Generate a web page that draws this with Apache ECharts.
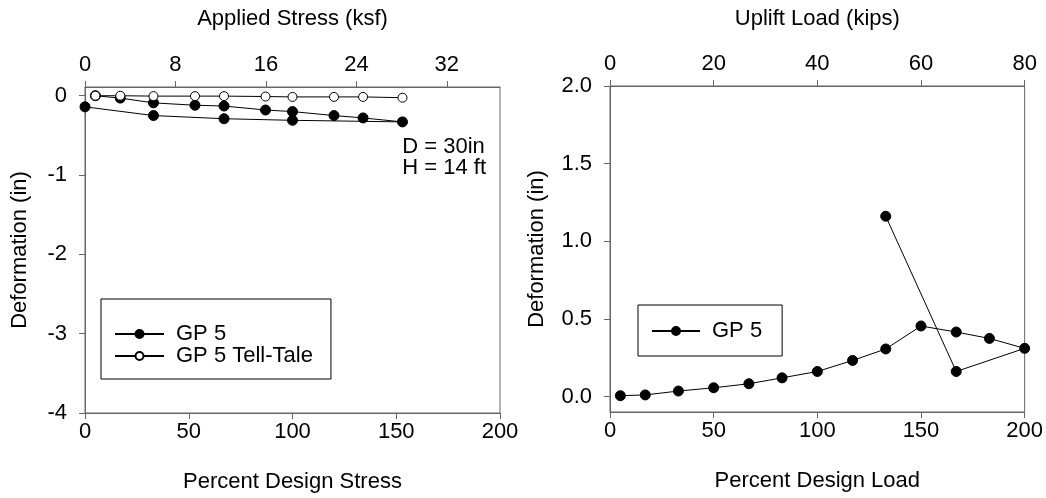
<!DOCTYPE html>
<html><head><meta charset="utf-8">
<script src="https://cdn.jsdelivr.net/npm/echarts@6/dist/echarts.min.js"></script>
<style>html,body{margin:0;padding:0;background:#fff}#c{width:1046px;height:498px}</style>
</head><body><div id="c"></div>
<script>
// ---- data ----
const leftPercent = [5, 17, 33, 53, 67, 87, 100, 120, 134, 153, 100, 67, 33, 0];
const leftGP5 = [0, -0.03, -0.09, -0.12, -0.13, -0.18, -0.2, -0.25, -0.28, -0.33, -0.31, -0.29, -0.25, -0.14];
const tellPercent = [5, 17, 33, 53, 67, 87, 100, 120, 134, 153];
const tellTale = [0, 0, -0.005, -0.005, -0.005, -0.01, -0.015, -0.015, -0.015, -0.025];
const rightPercent = [5, 17, 33, 50, 67, 83, 100, 117, 133, 150, 167, 183, 200, 167, 133];
const rightGP5 = [0.005, 0.01, 0.035, 0.056, 0.082, 0.12, 0.161, 0.232, 0.306, 0.454, 0.415, 0.374, 0.31, 0.161, 1.161];
const percentTicks = [0, 50, 100, 150, 200];
const stressTicks = [0, 8, 16, 24, 32];
const upliftTicks = [0, 20, 40, 60, 80];
const leftDefTicks = [-4, -3, -2, -1, 0];
const rightDefTicks = [0, 0.5, 1.0, 1.5, 2.0];
const annotation = ['D = 30in', 'H = 14 ft'];

const FONT = '"Liberation Sans", Arial, Helvetica, sans-serif';
const FS = 22;
const AX = '#666';

function pairs(xs, ys) { return xs.map((x, i) => [x, ys[i]]); }

function axis(o) {
  return Object.assign({
    type: 'value',
    nameLocation: 'middle',
    nameTextStyle: { fontFamily: FONT, fontSize: FS, color: '#000' },
    axisLine: { show: true, onZero: false, lineStyle: { color: AX, width: 1 } },
    axisTick: { show: true, length: 6, lineStyle: { color: AX }, customValues: o.ticks },
    axisLabel: { show: true, fontFamily: FONT, fontSize: FS, color: '#000', margin: o.margin, customValues: o.ticks, formatter: o.fmt },
    splitLine: { show: false }
  }, o.extra);
}

const chart = echarts.init(document.getElementById('c'), null, { renderer: 'canvas' });
chart.setOption({
  animation: false,
  backgroundColor: '#fff',
  grid: [
    { left: 85, top: 87, width: 415, height: 326, show: true, borderColor: AX, borderWidth: 1 },
    { left: 610, top: 86, width: 415, height: 326, show: true, borderColor: AX, borderWidth: 1 }
  ],
  xAxis: [
    axis({ ticks: percentTicks, margin: 8, extra: { gridIndex: 0, position: 'bottom', min: 0, max: 200, name: 'Percent Design Stress', nameGap: 58 } }),
    axis({ ticks: stressTicks, margin: 11, extra: { gridIndex: 0, position: 'top', min: 0, max: 36.7, name: 'Applied Stress (ksf)', nameGap: 57 } }),
    axis({ ticks: percentTicks, margin: 8, extra: { gridIndex: 1, position: 'bottom', min: 0, max: 200, name: 'Percent Design Load', nameGap: 58 } }),
    axis({ ticks: upliftTicks, margin: 11, extra: { gridIndex: 1, position: 'top', min: 0, max: 80, name: 'Uplift Load (kips)', nameGap: 56 } })
  ],
  yAxis: [
    axis({ ticks: leftDefTicks, margin: 18, extra: { gridIndex: 0, position: 'left', min: -4, max: 0.11, name: 'Deformation (in)', nameGap: 54 } }),
    axis({ ticks: rightDefTicks, margin: 18, fmt: v => Number(v).toFixed(1), extra: { gridIndex: 1, position: 'left', min: -0.1, max: 2.0, name: 'Deformation (in)', nameGap: 62 } })
  ],
  legend: [
    {
      left: 101, top: 299, orient: 'vertical',
      data: ['GP 5', 'GP 5 Tell-Tale'],
      itemWidth: 49, itemHeight: 10, itemGap: 0,
      padding: [24, 18, 12, 13],
      borderColor: '#000', borderWidth: 1,
      textStyle: { fontFamily: FONT, fontSize: FS, color: '#000', lineHeight: 20, padding: [0, 0, 0, 7] }
    },
    {
      left: 638, top: 305, orient: 'vertical',
      data: [{ name: 'GP 5 ' }],
      itemWidth: 48, itemHeight: 10, itemGap: 0,
      padding: [15, 20, 14, 13],
      borderColor: '#000', borderWidth: 1,
      textStyle: { fontFamily: FONT, fontSize: FS, color: '#000', lineHeight: 20, padding: [0, 0, 0, 7] },
      formatter: n => n.trim()
    }
  ],
  graphic: [
    { type: 'text', right: 1046 - 486, top: 136, style: { text: annotation.join('\n'), fontFamily: FONT, fontSize: FS, fill: '#000', lineHeight: 21, align: 'right' } }
  ],
  series: [
    {
      name: 'GP 5', type: 'line', xAxisIndex: 0, yAxisIndex: 0,
      data: pairs(leftPercent, leftGP5),
      symbol: 'circle', symbolSize: 10, showAllSymbol: true,
      lineStyle: { color: '#000', width: 1 },
      itemStyle: { color: '#000', borderColor: '#000', borderWidth: 1 }, z: 2
    },
    {
      name: 'GP 5 Tell-Tale', type: 'line', xAxisIndex: 0, yAxisIndex: 0,
      data: pairs(tellPercent, tellTale),
      symbol: 'circle', symbolSize: 9, showAllSymbol: true,
      lineStyle: { color: '#000', width: 1 },
      itemStyle: { color: '#fff', borderColor: '#000', borderWidth: 1 }, z: 3
    },
    {
      name: 'GP 5 ', type: 'line', xAxisIndex: 2, yAxisIndex: 1,
      data: pairs(rightPercent, rightGP5),
      symbol: 'circle', symbolSize: 10, showAllSymbol: true,
      lineStyle: { color: '#000', width: 1 },
      itemStyle: { color: '#000', borderColor: '#000', borderWidth: 1 }, z: 2
    }
  ]
});
</script></body></html>
